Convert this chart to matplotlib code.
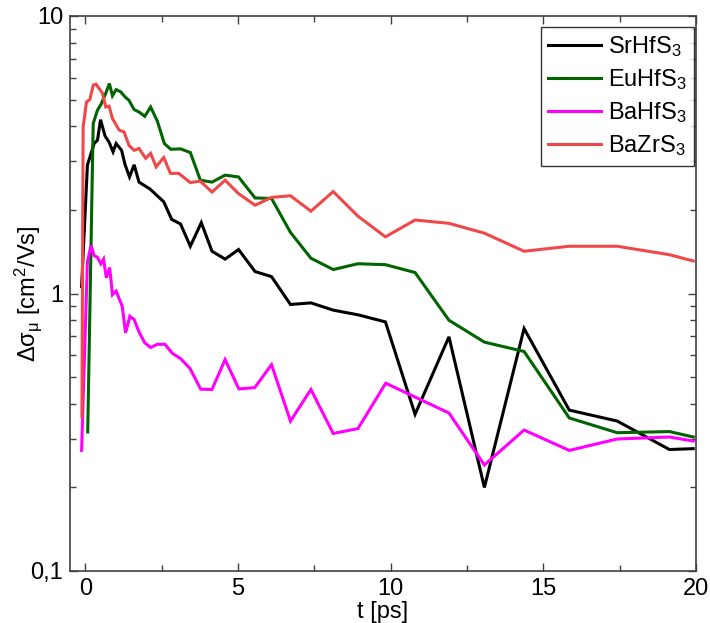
import matplotlib
matplotlib.use("Agg")
import matplotlib.pyplot as plt
from matplotlib.ticker import FixedLocator, FuncFormatter, MultipleLocator, LogLocator, NullFormatter

plt.rcParams["font.family"] = ["Liberation Sans", "DejaVu Sans"]
plt.rcParams["mathtext.fontset"] = "custom"
plt.rcParams["mathtext.rm"] = "Liberation Sans"
plt.rcParams["mathtext.it"] = "Liberation Sans:italic"
plt.rcParams["mathtext.bf"] = "Liberation Sans:bold"

# --- photoconductivity transients, delta sigma_mu vs pump-probe delay ---
t_srhfs3 = [-0.12, 0.07, 0.29, 0.40, 0.50, 0.65, 0.78, 0.91, 1.01, 1.19, 1.30, 1.45,
            1.60, 1.76, 2.12, 2.57, 2.83, 3.12, 3.44, 3.80, 4.15, 4.58, 5.02, 5.56,
            6.10, 6.72, 7.39, 8.12, 8.93, 9.83, 10.80, 11.91, 13.07, 14.37, 15.85,
            17.42, 19.13, 19.91]
s_srhfs3 = [1.06, 2.90, 3.47, 3.57, 4.23, 3.69, 3.51, 3.24, 3.47, 3.28, 2.92, 2.63,
            2.91, 2.52, 2.38, 2.14, 1.85, 1.78, 1.48, 1.80, 1.42, 1.33, 1.44, 1.20,
            1.15, 0.913, 0.925, 0.871, 0.838, 0.790, 0.367, 0.698, 0.200, 0.748, 0.380,
            0.347, 0.274, 0.276]

t_euhfs3 = [0.08, 0.26, 0.40, 0.51, 0.66, 0.79, 0.89, 1.01, 1.16, 1.31, 1.43, 1.60,
            1.76, 1.95, 2.14, 2.36, 2.59, 2.80, 3.12, 3.44, 3.77, 4.15, 4.58, 5.02,
            5.56, 6.10, 6.72, 7.39, 8.12, 8.93, 9.83, 10.80, 11.91, 13.07, 14.37,
            15.85, 17.42, 19.13, 19.91]
s_euhfs3 = [0.317, 4.10, 4.58, 4.79, 5.23, 5.71, 5.16, 5.43, 5.33, 5.10, 4.97, 4.60,
            4.51, 4.35, 4.70, 4.18, 3.47, 3.31, 3.32, 3.22, 2.56, 2.52, 2.67, 2.63,
            2.21, 2.20, 1.66, 1.34, 1.22, 1.28, 1.27, 1.19, 0.801, 0.668, 0.618,
            0.356, 0.315, 0.318, 0.304]

t_bahfs3 = [-0.12, 0.07, 0.19, 0.29, 0.40, 0.51, 0.60, 0.69, 0.80, 0.89, 1.01, 1.21,
            1.32, 1.46, 1.60, 1.76, 1.95, 2.14, 2.36, 2.61, 2.85, 3.12, 3.43, 3.78,
            4.15, 4.58, 5.03, 5.55, 6.10, 6.72, 7.39, 8.12, 8.93, 9.84, 11.91, 13.07,
            14.37, 15.85, 17.42, 19.13, 19.91]
s_bahfs3 = [0.272, 1.30, 1.49, 1.37, 1.35, 1.28, 1.33, 1.14, 1.24, 0.99, 1.02, 0.90,
            0.721, 0.828, 0.806, 0.727, 0.664, 0.639, 0.656, 0.656, 0.609, 0.583, 0.537,
            0.452, 0.451, 0.578, 0.453, 0.458, 0.554, 0.347, 0.451, 0.313, 0.326, 0.475,
            0.371, 0.241, 0.322, 0.272, 0.299, 0.304, 0.294]

t_bazrs3 = [-0.11, -0.07, 0.04, 0.15, 0.26, 0.35, 0.48, 0.56, 0.67, 0.78, 0.89, 1.11,
            1.27, 1.43, 1.60, 1.76, 1.98, 2.14, 2.32, 2.57, 2.79, 3.06, 3.44, 3.77,
            4.15, 4.58, 5.02, 5.56, 6.10, 6.72, 7.39, 8.12, 8.93, 9.83, 10.80, 11.91,
            13.07, 14.37, 15.85, 17.42, 19.13, 19.91]
s_bazrs3 = [0.36, 3.98, 4.90, 5.00, 5.63, 5.68, 5.43, 5.28, 4.70, 4.73, 4.27, 3.88,
            3.82, 3.42, 3.28, 3.33, 3.07, 3.20, 2.86, 3.09, 2.71, 2.71, 2.51, 2.54,
            2.32, 2.56, 2.29, 2.08, 2.22, 2.25, 1.98, 2.33, 1.90, 1.60, 1.84, 1.79,
            1.65, 1.42, 1.48, 1.48, 1.38, 1.31]

labels = [r"SrHfS$_3$", r"EuHfS$_3$", r"BaHfS$_3$", r"BaZrS$_3$"]
colors = ["#000000", "#006400", "#FF00FF", "#F04848"]

x_ticks = [0, 5, 10, 15, 20]
y_ticks = [0.1, 1, 10]
y_tick_labels = ["0,1", "1", "10"]

fs = 17

fig = plt.figure(figsize=(7.10, 6.23), dpi=100)
ax = fig.add_axes([70 / 710, 1 - 571 / 623, (696 - 70) / 710, (571 - 16) / 623])

series = [(t_srhfs3, s_srhfs3), (t_euhfs3, s_euhfs3), (t_bahfs3, s_bahfs3), (t_bazrs3, s_bazrs3)]
for (t, s), lab, c in zip(series, labels, colors):
    ax.plot(t, s, color=c, lw=2.2, label=lab, solid_joinstyle="miter")

ax.set_yscale("log")
ax.set_xlim(-0.5, 20)
ax.set_ylim(0.1, 10)

ax.xaxis.set_major_locator(FixedLocator(x_ticks))
ax.xaxis.set_minor_locator(MultipleLocator(2.5))
ax.yaxis.set_major_locator(FixedLocator(y_ticks))
ax.yaxis.set_major_formatter(FuncFormatter(lambda v, p: y_tick_labels[y_ticks.index(v)] if v in y_ticks else ""))
ax.yaxis.set_minor_locator(LogLocator(base=10, subs=range(2, 10)))
ax.yaxis.set_minor_formatter(NullFormatter())

ax.tick_params(which="both", direction="in", top=True, right=True, color="#404040",
               labelsize=fs, width=1.0)
ax.tick_params(which="major", length=6, pad=5)
ax.tick_params(which="minor", length=4)

for sp in ax.spines.values():
    sp.set_color("#404040")
    sp.set_linewidth(1.2)

ax.set_xlabel("t [ps]", fontsize=fs, labelpad=1)
ax.set_ylabel("Δσ$_\\mathregular{μ}$ [cm$^\\mathregular{2}$/Vs]", fontsize=fs)
ax.yaxis.set_label_coords(-0.042, 0.5)

leg = ax.legend(loc="upper right", bbox_to_anchor=(694 / 710, 1 - 27 / 623),
                bbox_transform=fig.transFigure,
                borderaxespad=0, fontsize=fs, frameon=True, fancybox=False,
                edgecolor="black", handlelength=2.25, handletextpad=0.3,
                labelspacing=0.35, borderpad=0.3)
leg.get_frame().set_linewidth(1.0)

fig.savefig("out.png", dpi=100)
